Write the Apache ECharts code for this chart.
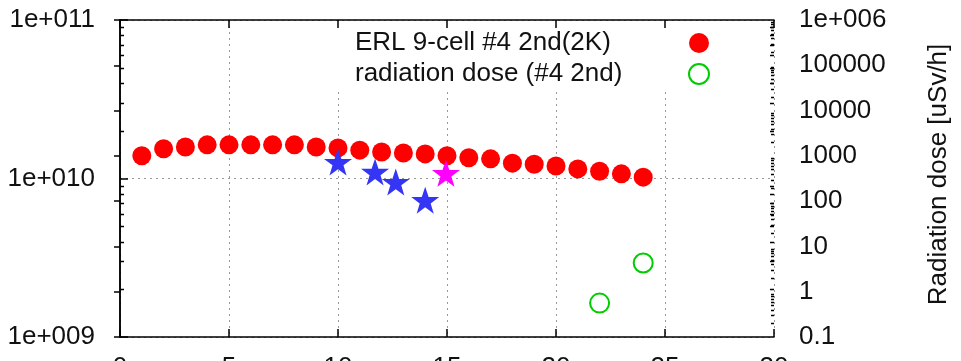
<!DOCTYPE html>
<html>
<head>
<meta charset="utf-8">
<script src="https://cdn.jsdelivr.net/npm/echarts@6/dist/echarts.min.js"></script>
<style>
  html, body { margin: 0; padding: 0; background: #fff; }
  #chart { width: 961px; height: 361px; }
</style>
</head>
<body>
<div id="chart"></div>
<script>
// Q0 of ERL 9-cell #4 2nd test (left log axis) and radiation dose (right log axis)
const cellX = [1, 2, 3, 4, 5, 6, 7, 8, 9, 10, 11, 12, 13, 14, 15, 16, 17, 18, 19, 20, 21, 22, 23, 24];
const q0 = [1.39e10, 1.54e10, 1.58e10, 1.63e10, 1.63e10, 1.63e10, 1.63e10, 1.63e10, 1.58e10, 1.56e10,
            1.51e10, 1.47e10, 1.45e10, 1.43e10, 1.39e10, 1.35e10, 1.33e10, 1.25e10, 1.23e10, 1.20e10,
            1.15e10, 1.11e10, 1.07e10, 1.02e10];
const doseX = [22, 24];
const dose = [0.56, 4.3];
const blueStarX = [10, 11.7, 12.65, 14];
const blueStarY = [1.27e10, 1.10e10, 9.5e9, 7.3e9];
const pinkStarX = [14.95];
const pinkStarY = [1.08e10];
const seriesNames = ['ERL 9-cell #4 2nd(2K)', 'radiation dose (#4 2nd)'];
const rightAxisName = 'Radiation dose [uSv/h]';

// minor tick positions for the two log axes
const minorMantissa = [2, 3, 4, 5, 6, 7, 8, 9];
const leftDecades = [1e9, 1e10];
const rightDecades = [0.1, 1, 10, 100, 1000, 10000, 100000];

const FONT = '"Liberation Sans", Arial, sans-serif';
const FS = 26;
const TXT = '#111';
const STAR = 'path://M50,0 L61.8,35.1 L98.1,35.1 L68.8,56.7 L79.4,91.4 L50,70 L20.6,91.4 L31.2,56.7 L1.9,35.1 L38.2,35.1 Z';

function buildTicks(decades) {
  const out = [];
  decades.forEach(d => minorMantissa.forEach(m => out.push([0, +(d * m).toPrecision(6)])));
  return out;
}

// short inward ticks drawn through the axis scale
function tickRenderer(leftLen, rightLen) {
  return function (params, api) {
    const v = api.value(1);
    const a = api.coord([0, v]);
    const b = api.coord([30, v]);
    const y = Math.round(a[1]) + 0.5;
    const children = [];
    if (leftLen) children.push({ type: 'line', shape: { x1: a[0], y1: y, x2: a[0] + leftLen, y2: y }, style: { stroke: '#000', lineWidth: 1.5 } });
    if (rightLen) children.push({ type: 'line', shape: { x1: b[0] - rightLen, y1: y, x2: b[0], y2: y }, style: { stroke: '#000', lineWidth: 1.5 } });
    return { type: 'group', children: children };
  };
}

const chart = echarts.init(document.getElementById('chart'));

const dotted = { show: true, lineStyle: { color: '#999', width: 1, type: [2, 4] } };
const frame = { show: true, lineStyle: { color: '#000', width: 1.5 } };

const option = {
  animation: false,
  textStyle: { fontFamily: FONT, color: TXT },
  grid: { left: 120, right: 187, top: 20, bottom: 24, show: false, outerBoundsMode: 'none', containLabel: false },
  legend: {
    orient: 'vertical',
    left: 330,
    top: 21,
    align: 'right',
    itemWidth: 20,
    itemHeight: 20,
    itemGap: 5,
    padding: [9, 64, 5, 25],
    backgroundColor: '#fff',
    selectedMode: false,
    formatter: name => '{t|' + name + '}',
    textStyle: {
      rich: { t: { width: 329, align: 'left', fontSize: FS, fontFamily: FONT, color: TXT, lineHeight: 22 } }
    },
    data: [
      { name: seriesNames[0], icon: 'circle', itemStyle: { color: '#ff0000', opacity: 1 } },
      { name: seriesNames[1], icon: 'circle', itemStyle: { color: '#fff', borderColor: '#00cc00', borderWidth: 2, opacity: 1 } }
    ]
  },
  xAxis: [
    {
      type: 'value', min: 0, max: 30, interval: 5, position: 'bottom',
      axisLine: frame,
      axisTick: { show: true, inside: true, length: 8, lineStyle: { color: '#000', width: 1.5 } },
      axisLabel: { margin: 18, fontSize: FS, color: TXT, fontFamily: FONT },
      splitLine: dotted
    },
    {
      type: 'value', min: 0, max: 30, interval: 5, position: 'top', z: 10,
      axisLine: frame,
      axisTick: { show: true, inside: true, length: 8, lineStyle: { color: '#000', width: 1.5 } },
      axisLabel: { show: false },
      splitLine: { show: false }
    }
  ],
  yAxis: [
    {
      type: 'log', logBase: 10, min: 1e9, max: 1e11, position: 'left',
      axisLine: frame,
      axisTick: { show: true, inside: true, length: 8, lineStyle: { color: '#000', width: 1.5 } },
      axisLabel: {
        margin: 25, fontSize: FS, color: TXT, fontFamily: FONT,
        formatter: v => '1e+' + String(Math.round(Math.log10(v))).padStart(3, '0')
      },
      splitLine: dotted
    },
    {
      type: 'log', logBase: 10, min: 0.1, max: 1e6, position: 'right', z: 10,
      name: rightAxisName, nameLocation: 'middle', nameRotate: 90, nameGap: 152,
      nameTextStyle: { fontSize: FS, color: TXT, fontFamily: FONT, padding: [0, 0, 0, 8] },
      axisLine: frame,
      axisTick: { show: true, inside: true, length: 6, lineStyle: { color: '#000', width: 1.5 } },
      axisLabel: {
        margin: 25, fontSize: FS, color: TXT, fontFamily: FONT,
        formatter: v => v >= 1e6 ? '1e+006' : String(+v.toPrecision(6))
      },
      splitLine: { show: false }
    }
  ],
  series: [
    {
      name: seriesNames[0], type: 'scatter', xAxisIndex: 0, yAxisIndex: 0,
      symbol: 'circle', symbolSize: 19, silent: true,
      itemStyle: { color: '#ff0000', opacity: 1 },
      data: cellX.map((x, i) => [x, q0[i]])
    },
    {
      name: seriesNames[1], type: 'scatter', xAxisIndex: 0, yAxisIndex: 1,
      symbol: 'circle', symbolSize: 19, silent: true,
      itemStyle: { color: 'rgba(255,255,255,0)', borderColor: '#00cc00', borderWidth: 2, opacity: 1 },
      data: doseX.map((x, i) => [x, dose[i]])
    },
    {
      name: 'blue stars', type: 'scatter', xAxisIndex: 0, yAxisIndex: 0,
      symbol: STAR, symbolSize: [28, 27], silent: true, z: 3,
      itemStyle: { color: '#3535f5', opacity: 1 },
      data: blueStarX.map((x, i) => [x, blueStarY[i]])
    },
    {
      name: 'pink star', type: 'scatter', xAxisIndex: 0, yAxisIndex: 0,
      symbol: STAR, symbolSize: [28, 27], silent: true, z: 3,
      itemStyle: { color: '#ff00ff', opacity: 1 },
      data: pinkStarX.map((x, i) => [x, pinkStarY[i]])
    },
    {
      name: 'left minor ticks', type: 'custom', xAxisIndex: 0, yAxisIndex: 0, z: 10, silent: true,
      renderItem: tickRenderer(4, 4),
      data: buildTicks(leftDecades)
    },
    {
      name: 'right minor ticks', type: 'custom', xAxisIndex: 0, yAxisIndex: 1, z: 10, silent: true,
      renderItem: tickRenderer(0, 3),
      data: buildTicks(rightDecades)
    }
  ]
};

chart.setOption(option);
</script>
</body>
</html>
